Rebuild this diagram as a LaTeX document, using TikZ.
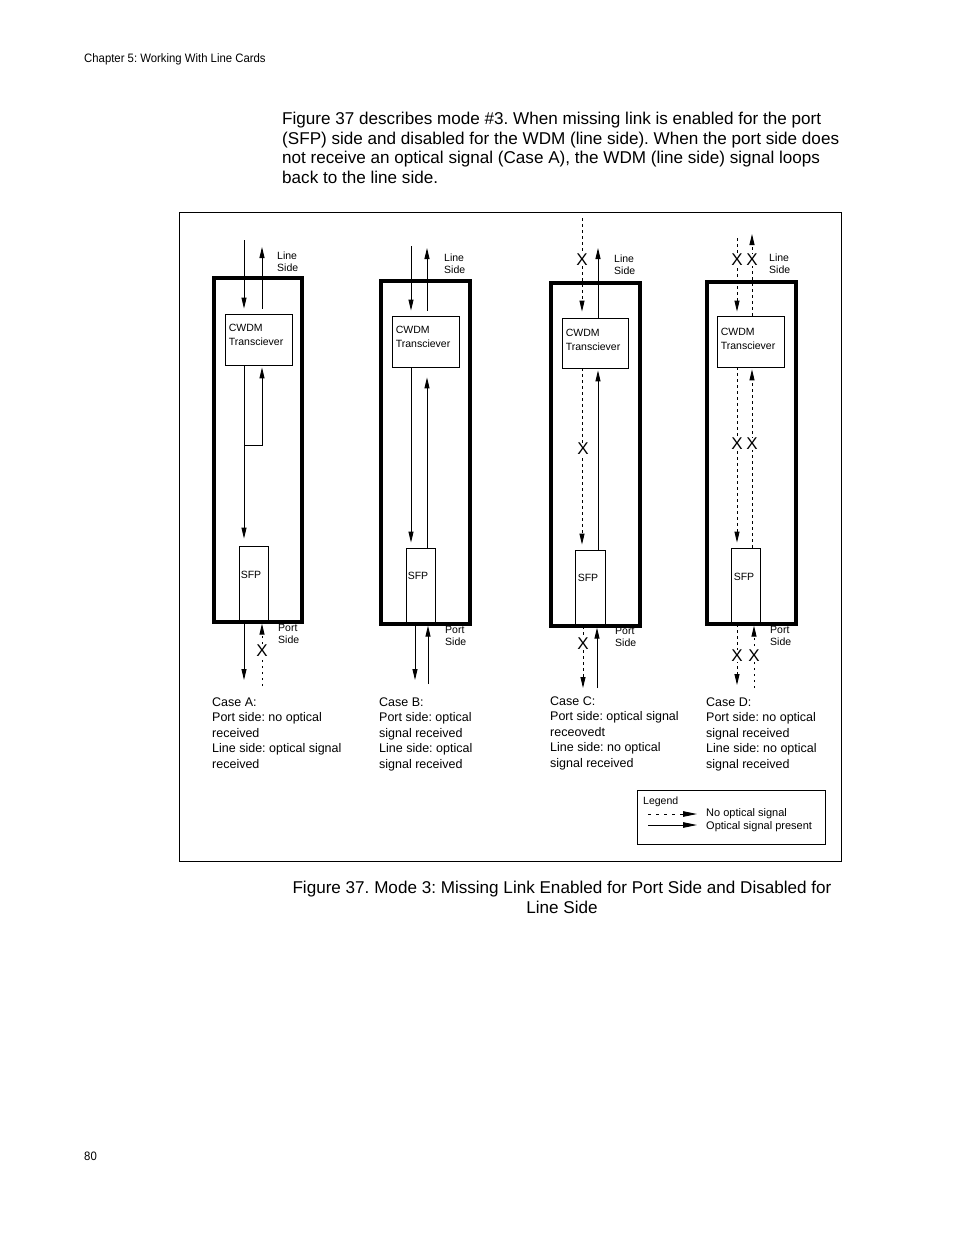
\documentclass[tikz,border=0pt]{standalone}
\usepackage{fontspec}
\setmainfont{Liberation Sans}
\usetikzlibrary{arrows.meta,calc}
\frenchspacing
\begin{document}
\begin{tikzpicture}[x=1pt,y=-1pt,
  card/.style={draw, line width=3.3pt, inner sep=0pt},
  unit/.style={draw, line width=0.8pt, inner sep=0pt},
  lbl/.style={inner sep=0pt, font=\fontsize{10.5}{12}\selectfont, align=left},
  boxlbl/.style={inner sep=0pt, font=\fontsize{10.5}{14}\selectfont, align=left},
  casetxt/.style={inner sep=0pt, font=\fontsize{12.5}{15.6}\selectfont, align=left, anchor=base west},
  xmark/.style={inner sep=0.3pt, fill=white, font=\fontsize{17}{17}\selectfont},
  sig/.style={line width=0.9pt, -{Triangle[length=11pt,width=5pt]}},
  nosig/.style={sig, dash pattern=on 2.5pt off 3.5pt},
  legsig/.style={line width=0.9pt, -{Triangle[length=14pt,width=5.5pt]}},
]
\useasboundingbox (0,0) rectangle (954,1235);

% header and body text (base anchor = baseline of the last line)
\node[inner sep=0pt, anchor=base west] (hdr) at (84,62.5)
  {\scalebox{0.93}[1]{\fontsize{12.2}{14}\selectfont Chapter 5: Working With Line Cards}};
\node[inner sep=0pt, anchor=base west, align=left, font=\fontsize{17.1}{19.7}\selectfont] (body) at (282,183.4)
  {Figure 37 describes mode \#3. When missing link is enabled for the port\\
   (SFP) side and disabled for the WDM (line side). When the port side does\\
   not receive an optical signal (Case A), the WDM (line side) signal loops\\
   back to the line side.};

% frame
\draw[line width=0.8pt] (179,212) rectangle (841,861);

% ---------------- Case A ----------------
\node[card, minimum width=88pt, minimum height=344pt] (cardA) at (258,450) {};
\node[unit, minimum width=67pt, minimum height=51pt] (cwA) at (258.5,339.5) {};
\node[unit, minimum width=29pt, minimum height=76pt] (sfpA) at (253.5,584) {};
\node[boxlbl, anchor=base west] (cwAt) at ($(cwA.north west)+(4,32)$) {CWDM\\Transciever};
\node[lbl, anchor=west] (sfpAt) at ($(sfpA.west)+(2,-9)$) {SFP};
\node[lbl, anchor=base west] (lsA) at (277,271) {Line\\Side};
\node[lbl, anchor=base west] (psA) at (278,643) {Port\\Side};
\coordinate (aT1) at (244,240);
\coordinate (aT2) at (262,247);
\coordinate (aLoop) at (244,445);
\coordinate (aB1) at (244,680);
\coordinate (aB2) at (262,686);
\draw[sig, shorten >=5pt] (aT1) -- (aT1 |- cwA.north);
\draw[sig, shorten <=5pt] (aT2 |- cwA.north) -- (aT2);
\draw[sig, shorten >=7pt] (aT1 |- cwA.south) -- (aT1 |- sfpA.north);
\draw[sig, shorten >=2pt] (aLoop) -- (aLoop -| aT2) -- (aT2 |- cwA.south);
\draw[sig] (aB1 |- sfpA.south) -- (aB1);
\draw[nosig] (aB2) -- (aB2 |- cardA.south);
\node[xmark] (xA1) at (262,651) {X};

% ---------------- Case B ----------------
\node[card, minimum width=89pt, minimum height=343pt] (cardB) at (425.5,452.5) {};
\node[unit, minimum width=67pt, minimum height=51pt] (cwB) at (425.5,341.5) {};
\node[unit, minimum width=29pt, minimum height=76pt] (sfpB) at (420.5,586) {};
\node[boxlbl, anchor=base west] (cwBt) at ($(cwB.north west)+(4,32)$) {CWDM\\Transciever};
\node[lbl, anchor=west] (sfpBt) at ($(sfpB.west)+(2,-10)$) {SFP};
\node[lbl, anchor=base west] (lsB) at (444,273) {Line\\Side};
\node[lbl, anchor=base west] (psB) at (445,645) {Port\\Side};
\coordinate (bT1) at (411,246);
\coordinate (bT2) at (427,248);
\coordinate (bB1) at (415,680);
\coordinate (bB2) at (428,684);
\draw[sig, shorten >=5pt] (bT1) -- (bT1 |- cwB.north);
\draw[sig, shorten <=5pt] (bT2 |- cwB.north) -- (bT2);
\draw[sig, shorten >=5pt] (bT1 |- cwB.south) -- (bT1 |- sfpB.north);
\draw[sig, shorten >=10pt] (bT2 |- sfpB.north) -- (bT2 |- cwB.south);
\draw[sig] (bB1 |- sfpB.south) -- (bB1);
\draw[sig] (bB2) -- (bB2 |- cardB.south);

% ---------------- Case C ----------------
\node[card, minimum width=89pt, minimum height=343pt] (cardC) at (595.5,454.5) {};
\node[unit, minimum width=66pt, minimum height=50pt] (cwC) at (595,343) {};
\node[unit, minimum width=30pt, minimum height=76pt] (sfpC) at (590,588) {};
\node[boxlbl, anchor=base west] (cwCt) at ($(cwC.north west)+(4,33)$) {CWDM\\Transciever};
\node[lbl, anchor=west] (sfpCt) at ($(sfpC.west)+(3,-10)$) {SFP};
\node[lbl, anchor=base west] (lsC) at (614,274) {Line\\Side};
\node[lbl, anchor=base west] (psC) at (615,646) {Port\\Side};
\coordinate (cT1) at (582,218);
\coordinate (cT2) at (598,248);
\coordinate (cB1) at (583,688);
\coordinate (cB2) at (597,688);
\draw[nosig, shorten >=6pt] (cT1) -- (cT1 |- cwC.north);
\draw[sig] (cT2 |- cwC.north) -- (cT2);
\draw[nosig, shorten >=5pt] (cT1 |- cwC.south) -- (cT1 |- sfpC.north);
\draw[sig, shorten >=2pt] (cT2 |- sfpC.north) -- (cT2 |- cwC.south);
\draw[nosig] (cB1 |- sfpC.south) -- (cB1);
\draw[sig] (cB2) -- (cB2 |- cardC.south);
\node[xmark] (xC1) at (582,260) {X};
\node[xmark] (xC2) at (583,449) {X};
\node[xmark] (xC3) at (583,644) {X};

% ---------------- Case D ----------------
\node[card, minimum width=89pt, minimum height=342pt] (cardD) at (751.5,453) {};
\node[unit, minimum width=67pt, minimum height=51pt] (cwD) at (750.5,341.5) {};
\node[unit, minimum width=29pt, minimum height=76pt] (sfpD) at (745.5,586) {};
\node[boxlbl, anchor=base west] (cwDt) at ($(cwD.north west)+(4,34)$) {CWDM\\Transciever};
\node[lbl, anchor=west] (sfpDt) at ($(sfpD.west)+(3,-9)$) {SFP};
\node[lbl, anchor=base west] (lsD) at (769,273) {Line\\Side};
\node[lbl, anchor=base west] (psD) at (770,645) {Port\\Side};
\coordinate (dT1) at (737,238);
\coordinate (dT2) at (752,234);
\coordinate (dB1) at (737,685);
\coordinate (dB2) at (754,688);
\draw[nosig, shorten >=4pt] (dT1) -- (dT1 |- cwD.north);
\draw[nosig] (dT2 |- cwD.north) -- (dT2);
\draw[nosig, shorten >=5pt] (dT1 |- cwD.south) -- (dT1 |- sfpD.north);
\draw[nosig, shorten >=2pt] (dT2 |- sfpD.north) -- (dT2 |- cwD.south);
\draw[nosig] (dB1 |- sfpD.south) -- (dB1);
\draw[nosig] (dB2) -- (dB2 |- cardD.south);
\node[xmark] (xD1) at (737,260) {X};
\node[xmark] (xD2) at (752,260) {X};
\node[xmark] (xD3) at (737,444) {X};
\node[xmark] (xD4) at (752,444) {X};
\node[xmark] (xD5) at (737,656) {X};
\node[xmark] (xD6) at (754,656) {X};

% case descriptions
\node[casetxt] (tA) at (212,768.4) {Case A:\\Port side: no optical\\received\\Line side: optical signal\\received};
\node[casetxt] (tB) at (379,768.4) {Case B:\\Port side: optical\\signal received\\Line side: optical\\signal received};
\node[casetxt] (tC) at (550,767.4) {Case C:\\Port side: optical signal\\receovedt\\Line side: no optical\\signal received};
\node[casetxt] (tD) at (706,768.4) {Case D:\\Port side: no optical\\signal received\\Line side: no optical\\signal received};

% legend
\node[draw, line width=0.8pt, minimum width=188pt, minimum height=54pt, inner sep=0pt] (leg) at (731,817) {};
\node[lbl, anchor=base west] (legT) at (643,804) {Legend};
\coordinate (l1a) at (648,814);
\coordinate (l1b) at (697,814);
\coordinate (l2a) at (648,825);
\coordinate (l2b) at (697,825);
\draw[legsig, dash pattern=on 2.5pt off 5.5pt] (l1a) -- (l1b);
\draw[legsig] (l2a) -- (l2b);
\node[lbl, anchor=base west, font=\fontsize{11}{13}\selectfont] (leg1) at (706,816) {No optical signal};
\node[lbl, anchor=base west, font=\fontsize{11}{13}\selectfont] (leg2) at (706,829) {Optical signal present};

% caption and page number
\node[inner sep=0pt, anchor=base, align=center, font=\fontsize{17.1}{20}\selectfont] (cap) at (562,913)
  {Figure 37. Mode 3: Missing Link Enabled for Port Side and Disabled for\\Line Side};
\node[inner sep=0pt, anchor=base west] (pg) at (84,1160)
  {\scalebox{0.93}[1]{\fontsize{12.2}{14}\selectfont 80}};
\end{tikzpicture}
\end{document}
